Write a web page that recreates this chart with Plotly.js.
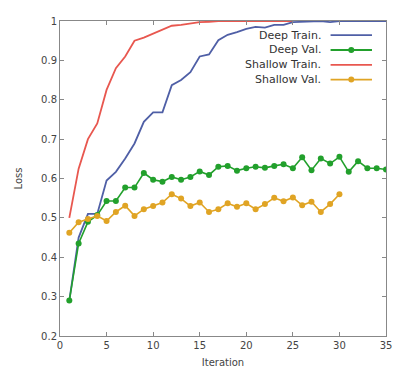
<!DOCTYPE html>
<html>
<head>
<meta charset="utf-8">
<script src="https://cdn.plot.ly/plotly-3.0.1.min.js"></script>
<style>html,body{margin:0;padding:0;background:#fff;}#chart{width:394px;height:383px;}</style>
</head>
<body>
<div id="chart"></div>
<script>
const deepTrainIter = [1,2,3,4,5,6,7,8,9,10,11,12,13,14,15,16,17,18,19,20,21,22,23,24,25,26,27,28,29,30,31,32,33,34,35];
const deepTrain = [0.29,0.45,0.51,0.51,0.595,0.617,0.651,0.689,0.744,0.768,0.768,0.837,0.850,0.870,0.910,0.915,0.951,0.965,0.972,0.980,0.985,0.983,0.990,0.990,0.997,0.998,1.0,1.0,0.997,1.0,1.0,1.0,1.0,1.0,1.0];
const deepValIter = [1,2,3,4,5,6,7,8,9,10,11,12,13,14,15,16,17,18,19,20,21,22,23,24,25,26,27,28,29,30,31,32,33,34,35];
const deepVal = [0.29,0.435,0.49,0.507,0.543,0.543,0.577,0.577,0.614,0.597,0.592,0.604,0.597,0.604,0.618,0.609,0.630,0.632,0.620,0.626,0.630,0.627,0.632,0.636,0.626,0.654,0.621,0.651,0.638,0.655,0.617,0.644,0.626,0.626,0.623];
const shallowTrainIter = [1,2,3,4,5,6,7,8,9,10,11,12,13,14,15,16,17,18,19,20,21,22,23,24,25];
const shallowTrain = [0.50,0.625,0.70,0.74,0.825,0.88,0.91,0.95,0.958,0.968,0.98,0.988,0.99,0.993,0.997,0.998,1.0,1.0,1.0,1.0,1.0,1.0,1.0,1.0,1.0];
const shallowValIter = [1,2,3,4,5,6,7,8,9,10,11,12,13,14,15,16,17,18,19,20,21,22,23,24,25,26,27,28,29,30];
const shallowVal = [0.462,0.489,0.497,0.505,0.492,0.515,0.531,0.505,0.522,0.530,0.539,0.560,0.549,0.530,0.539,0.515,0.522,0.537,0.528,0.537,0.522,0.535,0.551,0.542,0.552,0.532,0.541,0.515,0.535,0.560];
const seriesNames = ['Deep Train.','Deep Val.','Shallow Train.','Shallow Val.'];
const xTicks = [0,5,10,15,20,25,30,35];
const yTicks = [0.2,0.3,0.4,0.5,0.6,0.7,0.8,0.9,1];

const colors = ['#4f5fa6','#22a02c','#e8574f','#e0a424'];
const hasMarker = [false, true, false, true];

const data = [
  {x: shallowTrainIter, y: shallowTrain, name: seriesNames[2], mode:'lines', line:{color:colors[2], width:1.8}},
  {x: deepTrainIter, y: deepTrain, name: seriesNames[0], mode:'lines', line:{color:colors[0], width:1.8}},
  {x: deepValIter, y: deepVal, name: seriesNames[1], mode:'lines+markers', line:{color:colors[1], width:1.6}, marker:{color:colors[1], size:6}},
  {x: shallowValIter, y: shallowVal, name: seriesNames[3], mode:'lines+markers', line:{color:colors[3], width:1.6}, marker:{color:colors[3], size:6}}
];

const axisCommon = {
  showline: true, linecolor: '#888', linewidth: 1, mirror: 'ticks',
  ticks: 'inside', ticklen: 4, tickcolor: '#888',
  showgrid: false, zeroline: false,
  tickfont: {family: 'DejaVu Sans', size: 10, color: '#444'}
};

// Gnuplot-style key: right-aligned text with sample to the right
const annotations = [];
const shapes = [];
const keyTextX = 0.806, keyLineX0 = 0.83, keyLineX1 = 0.957, keyTop = 0.955, keyStep = 0.047;
seriesNames.forEach((nm, i) => {
  const yy = keyTop - i * keyStep;
  annotations.push({xref:'paper', yref:'paper', x: keyTextX, y: yy, xanchor:'right', yanchor:'middle',
    text: nm, showarrow:false, font:{family:'DejaVu Sans', size:11, color:'#333'}});
  shapes.push({type:'line', xref:'paper', yref:'paper', x0: keyLineX0, x1: keyLineX1, y0: yy, y1: yy,
    line:{color: colors[i], width: 1.8}});
  if (hasMarker[i]) {
    const xm = (keyLineX0 + keyLineX1) / 2;
    shapes.push({type:'circle', xref:'paper', yref:'paper', xsizemode:'pixel', ysizemode:'pixel',
      xanchor: xm, yanchor: yy, x0:-3, x1:3, y0:-3, y1:3, fillcolor: colors[i], line:{color: colors[i], width:0}});
  }
});

const layout = {
  width: 394, height: 383,
  margin: {l: 60, r: 8, t: 21, b: 47},
  paper_bgcolor: '#fff', plot_bgcolor: '#fff',
  xaxis: Object.assign({}, axisCommon, {range: [0, 35], tickvals: xTicks, ticktext: xTicks.map(String),
    title: {text: 'Iteration', font: {family: 'DejaVu Sans', size: 10, color: '#444'}, standoff: 8}}),
  yaxis: Object.assign({}, axisCommon, {range: [0.2, 1], tickvals: yTicks, ticktext: yTicks.map(String),
    title: {text: 'Loss', font: {family: 'DejaVu Sans', size: 10, color: '#444'}, standoff: 16}}),
  showlegend: false,
  annotations: annotations,
  shapes: shapes
};

Plotly.newPlot('chart', data, layout, {displayModeBar: false, staticPlot: true});
</script>
</body>
</html>
